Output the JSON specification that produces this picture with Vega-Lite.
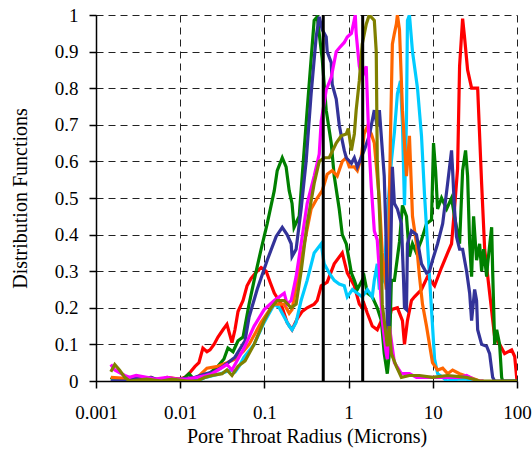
{
  "$schema": "https://vega.github.io/schema/vega-lite/v6.json",
  "width": 421,
  "height": 366,
  "autosize": {"type": "none"},
  "padding": {"left": 96, "top": 15, "right": 15, "bottom": 70},
  "background": "white",
  "config": {"view": {"stroke": null}},
  "datasets": {
    "curves": [
      {"s":"red","x":0.0015,"y":0},{"s":"red","x":0.003,"y":0.005},{"s":"red","x":0.0045,"y":0.01},{"s":"red","x":0.0055,"y":0},{"s":"red","x":0.007,"y":0.01},{"s":"red","x":0.0097,"y":0.005},{"s":"red","x":0.0114,"y":0.01},{"s":"red","x":0.0127,"y":0.02},{"s":"red","x":0.015,"y":0.04},{"s":"red","x":0.0167,"y":0.05},{"s":"red","x":0.0186,"y":0.09},{"s":"red","x":0.0208,"y":0.08},{"s":"red","x":0.0226,"y":0.085},{"s":"red","x":0.0252,"y":0.1},{"s":"red","x":0.0281,"y":0.12},{"s":"red","x":0.0322,"y":0.14},{"s":"red","x":0.0359,"y":0.155},{"s":"red","x":0.0412,"y":0.105},{"s":"red","x":0.0447,"y":0.14},{"s":"red","x":0.0486,"y":0.19},{"s":"red","x":0.0558,"y":0.22},{"s":"red","x":0.0622,"y":0.26},{"s":"red","x":0.0695,"y":0.28},{"s":"red","x":0.082,"y":0.3},{"s":"red","x":0.0914,"y":0.31},{"s":"red","x":0.105,"y":0.3},{"s":"red","x":0.117,"y":0.27},{"s":"red","x":0.131,"y":0.24},{"s":"red","x":0.158,"y":0.21},{"s":"red","x":0.186,"y":0.16},{"s":"red","x":0.213,"y":0.14},{"s":"red","x":0.245,"y":0.17},{"s":"red","x":0.281,"y":0.19},{"s":"red","x":0.322,"y":0.2},{"s":"red","x":0.39,"y":0.21},{"s":"red","x":0.424,"y":0.22},{"s":"red","x":0.473,"y":0.26},{"s":"red","x":0.557,"y":0.27},{"s":"red","x":0.675,"y":0.32},{"s":"red","x":0.841,"y":0.35},{"s":"red","x":0.964,"y":0.295},{"s":"red","x":1.17,"y":0.26},{"s":"red","x":1.34,"y":0.21},{"s":"red","x":1.45,"y":0.2},{"s":"red","x":1.53,"y":0.21},{"s":"red","x":1.67,"y":0.185},{"s":"red","x":1.91,"y":0.15},{"s":"red","x":2.19,"y":0.14},{"s":"red","x":2.45,"y":0.165},{"s":"red","x":2.8,"y":0.13},{"s":"red","x":3.22,"y":0.195},{"s":"red","x":3.8,"y":0.2},{"s":"red","x":4.36,"y":0.165},{"s":"red","x":4.61,"y":0.1},{"s":"red","x":5.0,"y":0.165},{"s":"red","x":5.58,"y":0.22},{"s":"red","x":6.06,"y":0.23},{"s":"red","x":7.34,"y":0.25},{"s":"red","x":8.65,"y":0.285},{"s":"red","x":10.5,"y":0.26},{"s":"red","x":12.7,"y":0.31},{"s":"red","x":15,"y":0.35},{"s":"red","x":16.7,"y":0.375},{"s":"red","x":18.1,"y":0.47},{"s":"red","x":19.7,"y":0.58},{"s":"red","x":20.8,"y":0.86},{"s":"red","x":22.6,"y":0.99},{"s":"red","x":23.8,"y":0.94},{"s":"red","x":25.9,"y":0.85},{"s":"red","x":28.9,"y":0.8},{"s":"red","x":34.1,"y":0.8},{"s":"red","x":38,"y":0.54},{"s":"red","x":41.3,"y":0.36},{"s":"red","x":47.3,"y":0.24},{"s":"red","x":54.3,"y":0.12},{"s":"red","x":62.2,"y":0.1},{"s":"red","x":71.3,"y":0.075},{"s":"red","x":86.4,"y":0.085},{"s":"red","x":93.9,"y":0.067},{"s":"red","x":100,"y":0},

      {"s":"green","x":0.0015,"y":0.01},{"s":"green","x":0.0017,"y":0},{"s":"green","x":0.01,"y":0},{"s":"green","x":0.0114,"y":0.01},{"s":"green","x":0.0127,"y":0.02},{"s":"green","x":0.0145,"y":0.005},{"s":"green","x":0.018,"y":0.01},{"s":"green","x":0.022,"y":0.02},{"s":"green","x":0.028,"y":0.04},{"s":"green","x":0.0331,"y":0.06},{"s":"green","x":0.0369,"y":0.09},{"s":"green","x":0.0424,"y":0.08},{"s":"green","x":0.0486,"y":0.11},{"s":"green","x":0.0558,"y":0.12},{"s":"green","x":0.0589,"y":0.15},{"s":"green","x":0.0658,"y":0.21},{"s":"green","x":0.0755,"y":0.275},{"s":"green","x":0.0914,"y":0.36},{"s":"green","x":0.108,"y":0.43},{"s":"green","x":0.131,"y":0.52},{"s":"green","x":0.142,"y":0.575},{"s":"green","x":0.163,"y":0.61},{"s":"green","x":0.181,"y":0.585},{"s":"green","x":0.197,"y":0.52},{"s":"green","x":0.213,"y":0.485},{"s":"green","x":0.225,"y":0.42},{"s":"green","x":0.259,"y":0.45},{"s":"green","x":0.281,"y":0.56},{"s":"green","x":0.322,"y":0.74},{"s":"green","x":0.359,"y":0.88},{"s":"green","x":0.39,"y":0.985},{"s":"green","x":0.424,"y":0.995},{"s":"green","x":0.486,"y":0.88},{"s":"green","x":0.542,"y":0.74},{"s":"green","x":0.622,"y":0.65},{"s":"green","x":0.675,"y":0.56},{"s":"green","x":0.774,"y":0.47},{"s":"green","x":0.841,"y":0.4},{"s":"green","x":0.938,"y":0.375},{"s":"green","x":1.08,"y":0.295},{"s":"green","x":1.17,"y":0.275},{"s":"green","x":1.27,"y":0.25},{"s":"green","x":1.41,"y":0.27},{"s":"green","x":1.53,"y":0.285},{"s":"green","x":1.67,"y":0.24},{"s":"green","x":1.91,"y":0.23},{"s":"green","x":2.19,"y":0.2},{"s":"green","x":2.45,"y":0.165},{"s":"green","x":2.65,"y":0.075},{"s":"green","x":2.88,"y":0.02},{"s":"green","x":3.05,"y":0.075},{"s":"green","x":3.22,"y":0.275},{"s":"green","x":3.5,"y":0.275},{"s":"green","x":4.02,"y":0.38},{"s":"green","x":4.36,"y":0.48},{"s":"green","x":4.61,"y":0.465},{"s":"green","x":4.87,"y":0.45},{"s":"green","x":5.28,"y":0.34},{"s":"green","x":5.74,"y":0.375},{"s":"green","x":6.4,"y":0.35},{"s":"green","x":7.34,"y":0.385},{"s":"green","x":8.42,"y":0.43},{"s":"green","x":9.65,"y":0.44},{"s":"green","x":10.2,"y":0.65},{"s":"green","x":10.8,"y":0.575},{"s":"green","x":11.4,"y":0.47},{"s":"green","x":12.7,"y":0.5},{"s":"green","x":14.6,"y":0.47},{"s":"green","x":16.7,"y":0.5},{"s":"green","x":18.1,"y":0.45},{"s":"green","x":20.8,"y":0.375},{"s":"green","x":22.6,"y":0.575},{"s":"green","x":24.5,"y":0.63},{"s":"green","x":25.9,"y":0.56},{"s":"green","x":27.4,"y":0.375},{"s":"green","x":28.9,"y":0.285},{"s":"green","x":30.5,"y":0.45},{"s":"green","x":33.1,"y":0.33},{"s":"green","x":36,"y":0.375},{"s":"green","x":38,"y":0.3},{"s":"green","x":40.2,"y":0.36},{"s":"green","x":43.6,"y":0.285},{"s":"green","x":44.8,"y":0.32},{"s":"green","x":50,"y":0.42},{"s":"green","x":51.4,"y":0.3},{"s":"green","x":54.3,"y":0.1},{"s":"green","x":57.4,"y":0.14},{"s":"green","x":62.2,"y":0.1},{"s":"green","x":65.7,"y":0.01},{"s":"green","x":67.5,"y":0},{"s":"green","x":100,"y":0},

      {"s":"cyan","x":0.0015,"y":0},{"s":"cyan","x":0.016,"y":0},{"s":"cyan","x":0.02,"y":0.01},{"s":"cyan","x":0.03,"y":0.02},{"s":"cyan","x":0.04,"y":0.03},{"s":"cyan","x":0.045,"y":0.025},{"s":"cyan","x":0.05,"y":0.04},{"s":"cyan","x":0.0573,"y":0.065},{"s":"cyan","x":0.0755,"y":0.1},{"s":"cyan","x":0.0993,"y":0.16},{"s":"cyan","x":0.131,"y":0.21},{"s":"cyan","x":0.15,"y":0.2},{"s":"cyan","x":0.172,"y":0.175},{"s":"cyan","x":0.197,"y":0.15},{"s":"cyan","x":0.213,"y":0.14},{"s":"cyan","x":0.238,"y":0.16},{"s":"cyan","x":0.273,"y":0.22},{"s":"cyan","x":0.322,"y":0.275},{"s":"cyan","x":0.39,"y":0.35},{"s":"cyan","x":0.473,"y":0.375},{"s":"cyan","x":0.513,"y":0.32},{"s":"cyan","x":0.589,"y":0.295},{"s":"cyan","x":0.675,"y":0.275},{"s":"cyan","x":0.774,"y":0.265},{"s":"cyan","x":0.888,"y":0.26},{"s":"cyan","x":0.964,"y":0.23},{"s":"cyan","x":1.11,"y":0.25},{"s":"cyan","x":1.27,"y":0.24},{"s":"cyan","x":1.45,"y":0.23},{"s":"cyan","x":1.67,"y":0.25},{"s":"cyan","x":1.91,"y":0.23},{"s":"cyan","x":2.02,"y":0.275},{"s":"cyan","x":2.19,"y":0.32},{"s":"cyan","x":2.32,"y":0.25},{"s":"cyan","x":2.65,"y":0.285},{"s":"cyan","x":2.88,"y":0.45},{"s":"cyan","x":3.22,"y":0.6},{"s":"cyan","x":3.5,"y":0.68},{"s":"cyan","x":3.8,"y":0.785},{"s":"cyan","x":4.13,"y":0.82},{"s":"cyan","x":4.36,"y":0.7},{"s":"cyan","x":4.61,"y":0.48},{"s":"cyan","x":4.87,"y":0.72},{"s":"cyan","x":5.0,"y":0.985},{"s":"cyan","x":5.28,"y":1.0},{"s":"cyan","x":5.74,"y":0.9},{"s":"cyan","x":6.58,"y":0.8},{"s":"cyan","x":7.34,"y":0.67},{"s":"cyan","x":7.97,"y":0.51},{"s":"cyan","x":8.65,"y":0.375},{"s":"cyan","x":9.65,"y":0.195},{"s":"cyan","x":10.5,"y":0.06},{"s":"cyan","x":11.4,"y":0.02},{"s":"cyan","x":13.1,"y":0.01},{"s":"cyan","x":14.6,"y":0},{"s":"cyan","x":20,"y":0.005},{"s":"cyan","x":25,"y":0.005},{"s":"cyan","x":30,"y":0},

      {"s":"orange","x":0.0015,"y":0.01},{"s":"orange","x":0.003,"y":0.005},{"s":"orange","x":0.01,"y":0.005},{"s":"orange","x":0.016,"y":0.01},{"s":"orange","x":0.0208,"y":0.035},{"s":"orange","x":0.028,"y":0.04},{"s":"orange","x":0.036,"y":0.05},{"s":"orange","x":0.0447,"y":0.06},{"s":"orange","x":0.0558,"y":0.08},{"s":"orange","x":0.0658,"y":0.1},{"s":"orange","x":0.0914,"y":0.16},{"s":"orange","x":0.12,"y":0.2},{"s":"orange","x":0.131,"y":0.21},{"s":"orange","x":0.172,"y":0.21},{"s":"orange","x":0.197,"y":0.185},{"s":"orange","x":0.213,"y":0.195},{"s":"orange","x":0.245,"y":0.275},{"s":"orange","x":0.297,"y":0.375},{"s":"orange","x":0.359,"y":0.47},{"s":"orange","x":0.424,"y":0.5},{"s":"orange","x":0.486,"y":0.52},{"s":"orange","x":0.557,"y":0.565},{"s":"orange","x":0.639,"y":0.575},{"s":"orange","x":0.733,"y":0.56},{"s":"orange","x":0.841,"y":0.6},{"s":"orange","x":0.938,"y":0.61},{"s":"orange","x":1.02,"y":0.585},{"s":"orange","x":1.17,"y":0.585},{"s":"orange","x":1.27,"y":0.575},{"s":"orange","x":1.41,"y":0.61},{"s":"orange","x":1.53,"y":0.675},{"s":"orange","x":1.67,"y":0.695},{"s":"orange","x":1.86,"y":0.675},{"s":"orange","x":2.02,"y":0.65},{"s":"orange","x":2.32,"y":0.495},{"s":"orange","x":2.51,"y":0.35},{"s":"orange","x":2.8,"y":0.25},{"s":"orange","x":2.96,"y":0.3},{"s":"orange","x":3.13,"y":0.65},{"s":"orange","x":3.31,"y":0.92},{"s":"orange","x":3.5,"y":0.95},{"s":"orange","x":3.69,"y":0.975},{"s":"orange","x":3.8,"y":1.0},{"s":"orange","x":4.02,"y":0.96},{"s":"orange","x":4.36,"y":0.74},{"s":"orange","x":4.87,"y":0.56},{"s":"orange","x":5.28,"y":0.67},{"s":"orange","x":5.74,"y":0.45},{"s":"orange","x":6.4,"y":0.375},{"s":"orange","x":6.95,"y":0.285},{"s":"orange","x":7.54,"y":0.21},{"s":"orange","x":8.42,"y":0.15},{"s":"orange","x":9.14,"y":0.1},{"s":"orange","x":9.92,"y":0.05},{"s":"orange","x":11.4,"y":0.03},{"s":"orange","x":13.1,"y":0.035},{"s":"orange","x":15,"y":0.02},{"s":"orange","x":17.2,"y":0.03},{"s":"orange","x":20.8,"y":0.02},{"s":"orange","x":27.4,"y":0.01},{"s":"orange","x":36,"y":0},{"s":"orange","x":40,"y":0},

      {"s":"navy","x":0.0015,"y":0},{"s":"navy","x":0.0025,"y":0},{"s":"navy","x":0.003,"y":0.01},{"s":"navy","x":0.0035,"y":0.005},{"s":"navy","x":0.0045,"y":0.01},{"s":"navy","x":0.006,"y":0},{"s":"navy","x":0.01,"y":0.005},{"s":"navy","x":0.015,"y":0.01},{"s":"navy","x":0.02,"y":0.02},{"s":"navy","x":0.025,"y":0.025},{"s":"navy","x":0.03,"y":0.035},{"s":"navy","x":0.0369,"y":0.05},{"s":"navy","x":0.0447,"y":0.065},{"s":"navy","x":0.0589,"y":0.11},{"s":"navy","x":0.0658,"y":0.175},{"s":"navy","x":0.082,"y":0.25},{"s":"navy","x":0.108,"y":0.33},{"s":"navy","x":0.138,"y":0.395},{"s":"navy","x":0.163,"y":0.42},{"s":"navy","x":0.186,"y":0.4},{"s":"navy","x":0.208,"y":0.375},{"s":"navy","x":0.213,"y":0.34},{"s":"navy","x":0.238,"y":0.36},{"s":"navy","x":0.273,"y":0.47},{"s":"navy","x":0.313,"y":0.6},{"s":"navy","x":0.359,"y":0.785},{"s":"navy","x":0.412,"y":0.94},{"s":"navy","x":0.448,"y":0.995},{"s":"navy","x":0.486,"y":0.96},{"s":"navy","x":0.542,"y":0.94},{"s":"navy","x":0.557,"y":0.9},{"s":"navy","x":0.622,"y":0.87},{"s":"navy","x":0.639,"y":0.81},{"s":"navy","x":0.713,"y":0.77},{"s":"navy","x":0.774,"y":0.7},{"s":"navy","x":0.818,"y":0.67},{"s":"navy","x":0.888,"y":0.63},{"s":"navy","x":0.938,"y":0.61},{"s":"navy","x":1.08,"y":0.595},{"s":"navy","x":1.17,"y":0.61},{"s":"navy","x":1.27,"y":0.585},{"s":"navy","x":1.41,"y":0.61},{"s":"navy","x":1.53,"y":0.63},{"s":"navy","x":1.76,"y":0.67},{"s":"navy","x":2.02,"y":0.74},{"s":"navy","x":2.19,"y":0.695},{"s":"navy","x":2.32,"y":0.74},{"s":"navy","x":2.65,"y":0.56},{"s":"navy","x":2.8,"y":0.375},{"s":"navy","x":2.92,"y":0.06},{"s":"navy","x":3.13,"y":0.3},{"s":"navy","x":3.31,"y":0.585},{"s":"navy","x":3.5,"y":0.485},{"s":"navy","x":3.8,"y":0.47},{"s":"navy","x":4.24,"y":0.43},{"s":"navy","x":4.48,"y":0.285},{"s":"navy","x":4.61,"y":0.2},{"s":"navy","x":4.87,"y":0.195},{"s":"navy","x":5.0,"y":0.375},{"s":"navy","x":5.58,"y":0.41},{"s":"navy","x":6.4,"y":0.4},{"s":"navy","x":7.34,"y":0.32},{"s":"navy","x":8.42,"y":0.295},{"s":"navy","x":9.14,"y":0.3},{"s":"navy","x":9.92,"y":0.33},{"s":"navy","x":11.4,"y":0.375},{"s":"navy","x":13.1,"y":0.43},{"s":"navy","x":15,"y":0.54},{"s":"navy","x":16.7,"y":0.63},{"s":"navy","x":17.2,"y":0.575},{"s":"navy","x":18.1,"y":0.47},{"s":"navy","x":19.1,"y":0.395},{"s":"navy","x":20.8,"y":0.36},{"s":"navy","x":22.6,"y":0.36},{"s":"navy","x":25.2,"y":0.3},{"s":"navy","x":27.4,"y":0.24},{"s":"navy","x":28.9,"y":0.165},{"s":"navy","x":31.4,"y":0.25},{"s":"navy","x":33.1,"y":0.22},{"s":"navy","x":34.1,"y":0.14},{"s":"navy","x":38,"y":0.1},{"s":"navy","x":43.6,"y":0.095},{"s":"navy","x":47.3,"y":0.075},{"s":"navy","x":51.4,"y":0.01},{"s":"navy","x":54.3,"y":0},{"s":"navy","x":100,"y":0},

      {"s":"magenta","x":0.0015,"y":0.045},{"s":"magenta","x":0.00167,"y":0.03},{"s":"magenta","x":0.0022,"y":0.015},{"s":"magenta","x":0.0025,"y":0.01},{"s":"magenta","x":0.003,"y":0.015},{"s":"magenta","x":0.004,"y":0.01},{"s":"magenta","x":0.005,"y":0.005},{"s":"magenta","x":0.007,"y":0.01},{"s":"magenta","x":0.009,"y":0.005},{"s":"magenta","x":0.012,"y":0.005},{"s":"magenta","x":0.016,"y":0.01},{"s":"magenta","x":0.02,"y":0.015},{"s":"magenta","x":0.0239,"y":0.02},{"s":"magenta","x":0.0359,"y":0.045},{"s":"magenta","x":0.0412,"y":0.03},{"s":"magenta","x":0.0486,"y":0.06},{"s":"magenta","x":0.0573,"y":0.09},{"s":"magenta","x":0.0755,"y":0.15},{"s":"magenta","x":0.0993,"y":0.195},{"s":"magenta","x":0.131,"y":0.22},{"s":"magenta","x":0.172,"y":0.24},{"s":"magenta","x":0.186,"y":0.21},{"s":"magenta","x":0.208,"y":0.22},{"s":"magenta","x":0.238,"y":0.285},{"s":"magenta","x":0.273,"y":0.375},{"s":"magenta","x":0.322,"y":0.485},{"s":"magenta","x":0.39,"y":0.56},{"s":"magenta","x":0.448,"y":0.62},{"s":"magenta","x":0.473,"y":0.71},{"s":"magenta","x":0.542,"y":0.795},{"s":"magenta","x":0.622,"y":0.83},{"s":"magenta","x":0.713,"y":0.9},{"s":"magenta","x":0.774,"y":0.91},{"s":"magenta","x":0.888,"y":0.925},{"s":"magenta","x":0.964,"y":0.94},{"s":"magenta","x":1.08,"y":0.95},{"s":"magenta","x":1.14,"y":0.975},{"s":"magenta","x":1.2,"y":1.0},{"s":"magenta","x":1.23,"y":0.95},{"s":"magenta","x":1.34,"y":0.86},{"s":"magenta","x":1.45,"y":0.83},{"s":"magenta","x":1.62,"y":0.86},{"s":"magenta","x":1.67,"y":0.77},{"s":"magenta","x":1.76,"y":0.63},{"s":"magenta","x":1.86,"y":0.53},{"s":"magenta","x":2.02,"y":0.41},{"s":"magenta","x":2.19,"y":0.385},{"s":"magenta","x":2.32,"y":0.3},{"s":"magenta","x":2.51,"y":0.165},{"s":"magenta","x":2.8,"y":0.075},{"s":"magenta","x":2.88,"y":0.06},{"s":"magenta","x":3.05,"y":0.15},{"s":"magenta","x":3.5,"y":0.05},{"s":"magenta","x":4.24,"y":0.02},{"s":"magenta","x":5.28,"y":0.02},{"s":"magenta","x":6.4,"y":0.01},{"s":"magenta","x":9.92,"y":0.01},{"s":"magenta","x":15,"y":0.01},{"s":"magenta","x":20.8,"y":0.01},{"s":"magenta","x":25.2,"y":0.015},{"s":"magenta","x":33.1,"y":0},{"s":"magenta","x":40,"y":0},

      {"s":"olive","x":0.0015,"y":0.025},{"s":"olive","x":0.00167,"y":0.045},{"s":"olive","x":0.0019,"y":0.03},{"s":"olive","x":0.0022,"y":0.01},{"s":"olive","x":0.0025,"y":0},{"s":"olive","x":0.004,"y":0.005},{"s":"olive","x":0.006,"y":0},{"s":"olive","x":0.008,"y":0.005},{"s":"olive","x":0.012,"y":0},{"s":"olive","x":0.016,"y":0},{"s":"olive","x":0.0197,"y":0.01},{"s":"olive","x":0.0239,"y":0.015},{"s":"olive","x":0.0314,"y":0.02},{"s":"olive","x":0.0359,"y":0.03},{"s":"olive","x":0.0412,"y":0.015},{"s":"olive","x":0.0486,"y":0.04},{"s":"olive","x":0.0589,"y":0.055},{"s":"olive","x":0.0755,"y":0.1},{"s":"olive","x":0.0993,"y":0.165},{"s":"olive","x":0.12,"y":0.2},{"s":"olive","x":0.142,"y":0.22},{"s":"olive","x":0.172,"y":0.22},{"s":"olive","x":0.208,"y":0.2},{"s":"olive","x":0.238,"y":0.21},{"s":"olive","x":0.273,"y":0.3},{"s":"olive","x":0.322,"y":0.43},{"s":"olive","x":0.39,"y":0.54},{"s":"olive","x":0.448,"y":0.6},{"s":"olive","x":0.513,"y":0.61},{"s":"olive","x":0.589,"y":0.61},{"s":"olive","x":0.713,"y":0.65},{"s":"olive","x":0.818,"y":0.67},{"s":"olive","x":0.938,"y":0.675},{"s":"olive","x":0.991,"y":0.69},{"s":"olive","x":1.08,"y":0.63},{"s":"olive","x":1.17,"y":0.675},{"s":"olive","x":1.23,"y":0.74},{"s":"olive","x":1.34,"y":0.82},{"s":"olive","x":1.45,"y":0.92},{"s":"olive","x":1.62,"y":0.975},{"s":"olive","x":1.76,"y":1.0},{"s":"olive","x":2.02,"y":0.985},{"s":"olive","x":2.13,"y":0.9},{"s":"olive","x":2.19,"y":0.6},{"s":"olive","x":2.32,"y":0.47},{"s":"olive","x":2.45,"y":0.33},{"s":"olive","x":2.51,"y":0.21},{"s":"olive","x":2.8,"y":0.12},{"s":"olive","x":2.88,"y":0.095},{"s":"olive","x":3.05,"y":0.15},{"s":"olive","x":3.22,"y":0.075},{"s":"olive","x":3.69,"y":0.04},{"s":"olive","x":4.24,"y":0.01},{"s":"olive","x":5.28,"y":0.015},{"s":"olive","x":6.95,"y":0.015},{"s":"olive","x":9.92,"y":0.01},{"s":"olive","x":15,"y":0.015},{"s":"olive","x":25.2,"y":0.01},{"s":"olive","x":36,"y":0},{"s":"olive","x":100,"y":0}
    ],
    "cuts": [{"x": 0.5}, {"x": 1.47}]
  },
  "layer": [
    {
      "data": {"name": "curves"},
      "mark": {"type": "line", "strokeWidth": 3.2, "clip": true},
      "encoding": {
        "x": {
          "field": "x", "type": "quantitative",
          "scale": {"type": "log", "domain": [0.001, 100]},
          "axis": {
            "title": "Pore Throat Radius (Microns)",
            "values": [0.001, 0.01, 0.1, 1, 10, 100],
            "format": "~g",
            "grid": true, "gridDash": [7, 5], "gridColor": "#222", "gridWidth": 1, "gridOpacity": 1,
            "domainColor": "#000", "domainWidth": 1.5,
            "tickColor": "#000", "tickSize": 7, "tickWidth": 1.5,
            "labelFont": "'Liberation Serif', 'Times New Roman', serif", "labelFontSize": 19, "labelColor": "#000", "labelPadding": 15,
            "labelFlush": false, "labelOverlap": false,
            "titleFont": "'Liberation Serif', 'Times New Roman', serif", "titleFontSize": 20, "titleFontWeight": "normal", "titleColor": "#000", "titlePadding": 4
          }
        },
        "y": {
          "field": "y", "type": "quantitative",
          "scale": {"domain": [0, 1], "nice": false},
          "axis": {
            "title": "Distribution Functions",
            "values": [0, 0.1, 0.2, 0.3, 0.4, 0.5, 0.6, 0.7, 0.8, 0.9, 1],
            "format": "~g",
            "grid": true, "gridDash": [7, 5], "gridColor": "#222", "gridWidth": 1, "gridOpacity": 1,
            "domainColor": "#000", "domainWidth": 1.5,
            "tickColor": "#000", "tickSize": 7, "tickWidth": 1.5,
            "labelFont": "'Liberation Serif', 'Times New Roman', serif", "labelFontSize": 19, "labelColor": "#000", "labelPadding": 11,
            "labelFlush": false, "labelOverlap": false,
            "titleFont": "'Liberation Serif', 'Times New Roman', serif", "titleFontSize": 20, "titleFontWeight": "normal", "titleColor": "#000", "titlePadding": 24
          }
        },
        "color": {
          "field": "s", "type": "nominal", "legend": null,
          "sort": ["red", "green", "cyan", "orange", "navy", "magenta", "olive"],
          "scale": {
            "domain": ["red", "green", "cyan", "orange", "navy", "magenta", "olive"],
            "range": ["#FF0000", "#008000", "#00CCFF", "#FF6600", "#333399", "#FF00FF", "#808000"]
          }
        }
      }
    },
    {
      "data": {"name": "cuts"},
      "mark": {"type": "rule", "color": "#000", "strokeWidth": 3},
      "encoding": {
        "x": {"field": "x", "type": "quantitative"}
      }
    }
  ]
}
